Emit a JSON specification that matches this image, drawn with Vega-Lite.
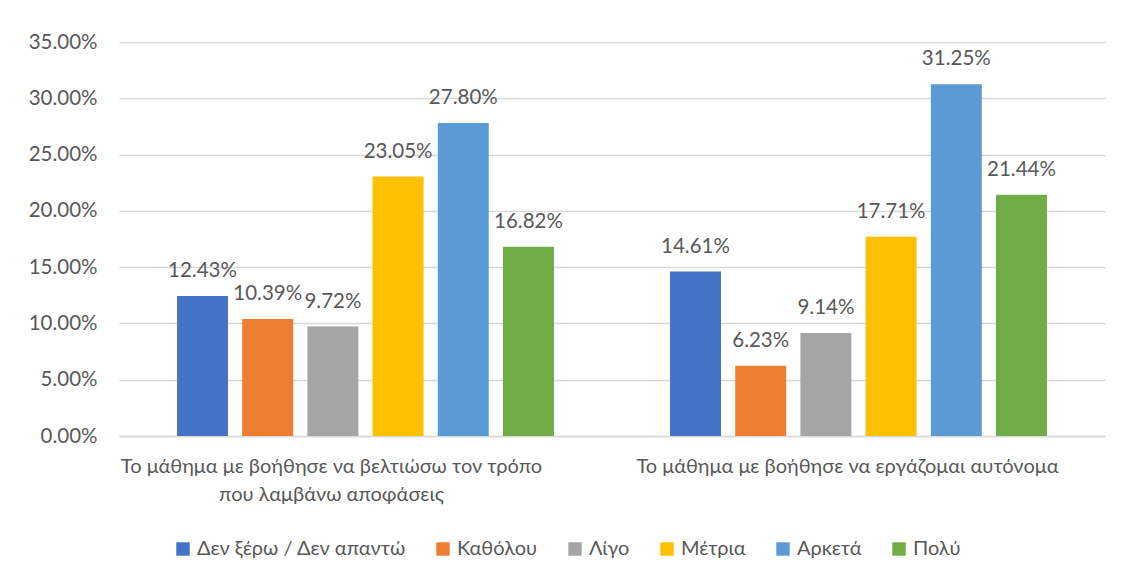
{
  "$schema": "https://vega.github.io/schema/vega-lite/v6.json",
  "width": 986,
  "height": 394,
  "autosize": "none",
  "padding": {"left": 119, "top": 42, "right": 28, "bottom": 141},
  "background": "white",
  "data": {
    "values": [
      {"statement": "Το μάθημα με  βοήθησε να βελτιώσω τον τρόπο που λαμβάνω αποφάσεις", "response": "Δεν ξέρω / Δεν απαντώ", "share": 0.1243},
      {"statement": "Το μάθημα με  βοήθησε να βελτιώσω τον τρόπο που λαμβάνω αποφάσεις", "response": "Καθόλου", "share": 0.1039},
      {"statement": "Το μάθημα με  βοήθησε να βελτιώσω τον τρόπο που λαμβάνω αποφάσεις", "response": "Λίγο", "share": 0.0972},
      {"statement": "Το μάθημα με  βοήθησε να βελτιώσω τον τρόπο που λαμβάνω αποφάσεις", "response": "Μέτρια", "share": 0.2305},
      {"statement": "Το μάθημα με  βοήθησε να βελτιώσω τον τρόπο που λαμβάνω αποφάσεις", "response": "Αρκετά", "share": 0.278},
      {"statement": "Το μάθημα με  βοήθησε να βελτιώσω τον τρόπο που λαμβάνω αποφάσεις", "response": "Πολύ", "share": 0.1682},
      {"statement": "Το μάθημα με  βοήθησε να εργάζομαι αυτόνομα", "response": "Δεν ξέρω / Δεν απαντώ", "share": 0.1461},
      {"statement": "Το μάθημα με  βοήθησε να εργάζομαι αυτόνομα", "response": "Καθόλου", "share": 0.0623},
      {"statement": "Το μάθημα με  βοήθησε να εργάζομαι αυτόνομα", "response": "Λίγο", "share": 0.0914},
      {"statement": "Το μάθημα με  βοήθησε να εργάζομαι αυτόνομα", "response": "Μέτρια", "share": 0.1771},
      {"statement": "Το μάθημα με  βοήθησε να εργάζομαι αυτόνομα", "response": "Αρκετά", "share": 0.3125},
      {"statement": "Το μάθημα με  βοήθησε να εργάζομαι αυτόνομα", "response": "Πολύ", "share": 0.2144}
    ]
  },
  "encoding": {
    "x": {
      "field": "statement",
      "type": "nominal",
      "sort": null,
      "title": null,
      "scale": {"paddingInner": 0, "paddingOuter": 0},
      "axis": {
        "labelAngle": 0,
        "labelFont": "Lato",
        "labelFontSize": 20,
        "labelColor": "#595959",
        "labelLineHeight": 28,
        "labelPadding": 20,
        "labelLimit": 0,
        "labelBaseline": "top",
        "labelOffset": {"condition": {"test": "indexof(datum.value, 'αποφάσεις') >= 0", "value": -34}, "value": -11},
        "ticks": false,
        "domainColor": "#d9d9d9",
        "domainWidth": 1.5,
        "labelExpr": "indexof(datum.label, 'αποφάσεις') >= 0 ? ['Το μάθημα με  βοήθησε να βελτιώσω τον τρόπο', 'που λαμβάνω αποφάσεις'] : datum.label"
      }
    },
    "xOffset": {
      "field": "response",
      "type": "nominal",
      "sort": ["Δεν ξέρω / Δεν απαντώ", "Καθόλου", "Λίγο", "Μέτρια", "Αρκετά", "Πολύ"],
      "scale": {"paddingInner": 0.218, "paddingOuter": 0.89}
    },
    "y": {
      "field": "share",
      "type": "quantitative",
      "title": null,
      "scale": {"domain": [0, 0.35], "nice": false},
      "axis": {
        "values": [0, 0.05, 0.1, 0.15, 0.2, 0.25, 0.3, 0.35],
        "format": ".2%",
        "labelFont": "Lato",
        "labelFontSize": 20.5,
        "labelColor": "#595959",
        "labelPadding": 22,
        "ticks": false,
        "domain": false,
        "gridColor": "#d9d9d9",
        "gridWidth": 1.5
      }
    }
  },
  "layer": [
    {
      "mark": {"type": "bar"},
      "encoding": {
        "color": {
          "field": "response",
          "type": "nominal",
          "sort": ["Δεν ξέρω / Δεν απαντώ", "Καθόλου", "Λίγο", "Μέτρια", "Αρκετά", "Πολύ"],
          "scale": {
            "domain": ["Δεν ξέρω / Δεν απαντώ", "Καθόλου", "Λίγο", "Μέτρια", "Αρκετά", "Πολύ"],
            "range": ["#4472C4", "#ED7D31", "#A5A5A5", "#FFC000", "#5B9BD5", "#70AD47"]
          },
          "legend": {
            "orient": "none",
            "direction": "horizontal",
            "legendX": 54,
            "legendY": 497,
            "title": null,
            "symbolType": "square",
            "symbolSize": 180,
            "symbolStrokeWidth": 0,
            "labelFont": "Lato",
            "labelFontSize": 20,
            "labelColor": "#595959",
            "labelOffset": 4,
            "columnPadding": 27,
            "labelLimit": 0
          }
        }
      }
    },
    {
      "mark": {"type": "text", "baseline": "alphabetic", "dy": -19, "font": "Lato", "fontSize": 20.5, "color": "#595959"},
      "encoding": {
        "text": {"field": "share", "type": "quantitative", "format": ".2%"}
      }
    }
  ],
  "config": {
    "view": {"stroke": null}
  }
}
